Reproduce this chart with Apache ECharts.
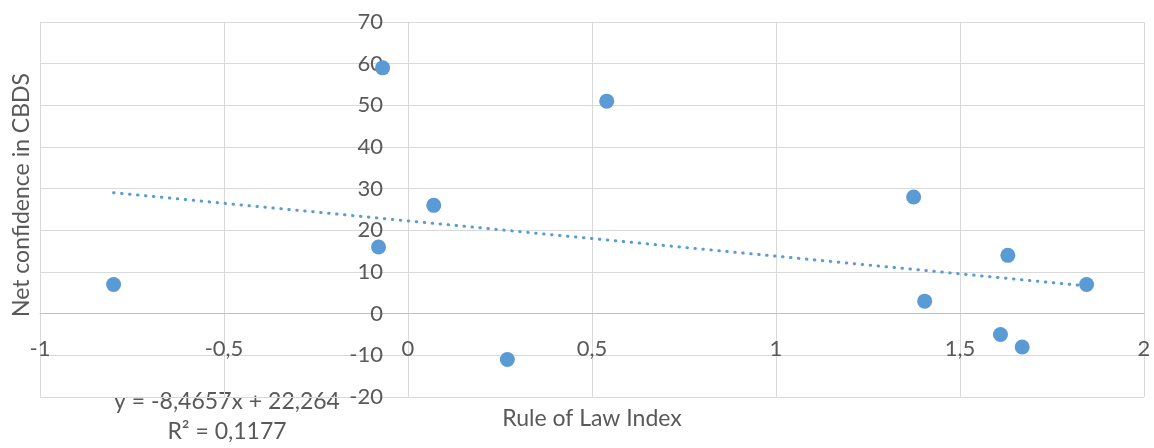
<!DOCTYPE html>
<html>
<head>
<meta charset="utf-8">
<script src="https://cdn.jsdelivr.net/npm/echarts@6/dist/echarts.min.js"></script>
<style>
html,body{margin:0;padding:0;background:#fff;}
#c{width:1154px;height:448px;}
</style>
</head>
<body>
<div id="c"></div>
<script>
// Data
const ruleOfLaw = [-0.80, -0.069, -0.080, 0.070, 0.540, 0.270, 1.374, 1.404, 1.630, 1.844, 1.610, 1.669];
const netConfidence = [7, 59, 16, 26, 51, -11, 28, 3, 14, 7, -5, -8];
const trendSlope = -8.4657;
const trendIntercept = 22.264;
const rSquared = 0.1177;
const xTicks = [-1, -0.5, 0, 0.5, 1, 1.5, 2];
const yTicks = [-20, -10, 0, 10, 20, 30, 40, 50, 60, 70];

const fmt = v => String(v).replace('.', ',');
const points = ruleOfLaw.map((x, i) => [x, netConfidence[i]]);
const xMin = Math.min(...ruleOfLaw), xMax = Math.max(...ruleOfLaw);
const trend = [[xMin, trendSlope * xMin + trendIntercept], [xMax, trendSlope * xMax + trendIntercept]];

const W = 1154, H = 448;
const G = {left: 40, right: 10, top: 22, bottom: 51};
const gw = W - G.left - G.right, gh = H - G.top - G.bottom;
const xMinT = xTicks[0], xMaxT = xTicks[xTicks.length - 1];
const yMinT = yTicks[0], yMaxT = yTicks[yTicks.length - 1];
// move the axes so that they cross at the origin (like the reference)
const xAxisOffset = -gh * (0 - yMinT) / (yMaxT - yMinT);
const yAxisOffset = -gw * (0 - xMinT) / (xMaxT - xMinT);

const FONT = 'Lato';
const TXT = '#595959';
const chart = echarts.init(document.getElementById('c'), null, {renderer: 'canvas'});
chart.setOption({
  animation: false,
  textStyle: {fontFamily: FONT},
  grid: Object.assign({containLabel: false, outerBoundsMode: 'none'}, G),
  xAxis: {
    type: 'value', min: xMinT, max: xMaxT, interval: 0.5,
    position: 'bottom', offset: xAxisOffset,
    axisLine: {onZero: false, lineStyle: {color: '#bfbfbf', width: 1}},
    axisTick: {show: false},
    axisLabel: {color: TXT, fontSize: 22, fontFamily: FONT, margin: 24, formatter: fmt},
    splitLine: {show: true, lineStyle: {color: '#d9d9d9', width: 1}}
  },
  yAxis: {
    type: 'value', min: yMinT, max: yMaxT, interval: 10,
    position: 'left', offset: yAxisOffset,
    axisLine: {show: true, onZero: false, lineStyle: {color: '#d9d9d9', width: 1}},
    axisTick: {show: false},
    axisLabel: {color: TXT, fontSize: 22, fontFamily: FONT, margin: 25, formatter: fmt},
    splitLine: {show: true, lineStyle: {color: '#d9d9d9', width: 1}}
  },
  graphic: [
    {type: 'text', x: 592, y: 419, style: {text: 'Rule of Law Index', fill: TXT, font: '23px ' + FONT, textAlign: 'center', textVerticalAlign: 'middle'}},
    {type: 'text', x: 22, y: 195, rotation: Math.PI / 2, style: {text: 'Net confidence in CBDS', fill: TXT, font: '23px ' + FONT, textAlign: 'center', textVerticalAlign: 'middle'}},
    {type: 'text', x: 227, y: 402, style: {text: 'y = ' + fmt(trendSlope) + 'x + ' + fmt(trendIntercept), fill: TXT, font: '23px ' + FONT, textAlign: 'center', textVerticalAlign: 'middle'}},
    {type: 'text', x: 227, y: 432, style: {text: 'R² = ' + fmt(rSquared), fill: TXT, font: '23px ' + FONT, textAlign: 'center', textVerticalAlign: 'middle'}}
  ],
  series: [
    {
      type: 'line', data: trend, symbol: 'none', silent: true, z: 2,
      lineStyle: {color: '#5B9BD5', width: 3, type: [0.5, 7.5], cap: 'round'}
    },
    {
      type: 'scatter', data: points, symbolSize: 15, z: 3,
      itemStyle: {color: '#5B9BD5', opacity: 1}
    }
  ]
});
</script>
</body>
</html>
